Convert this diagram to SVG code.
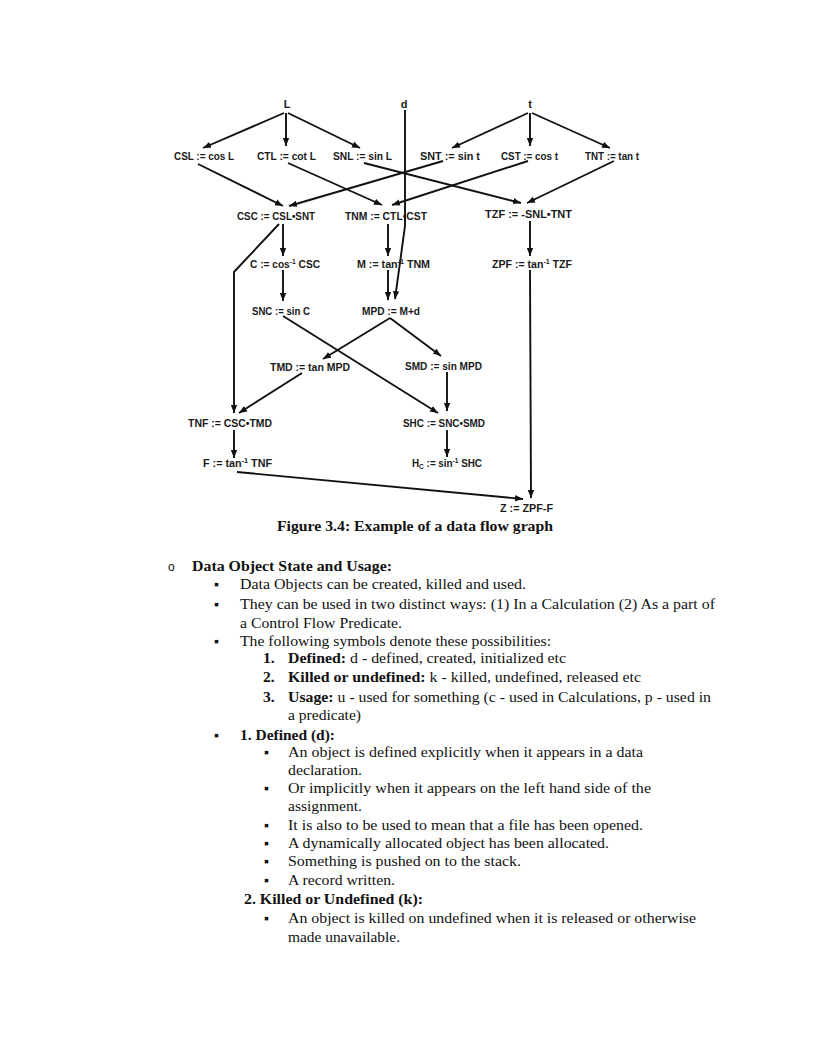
<svg xmlns="http://www.w3.org/2000/svg" width="816" height="1056" viewBox="0 0 816 1056">
<defs>
<marker id="ah" viewBox="0 0 10 8" refX="10" refY="4" markerWidth="8" markerHeight="7" markerUnits="userSpaceOnUse" orient="auto">
<path d="M0,0 L10,4 L0,8 z" fill="#111"/>
</marker>
<style>
.n{font-family:"Liberation Sans",Arial,sans-serif;font-weight:bold;font-size:10.5px;fill:#1a1a1a}
.v{font-family:"Liberation Sans",Arial,sans-serif;font-weight:bold;font-size:11px;fill:#1a1a1a;text-anchor:middle}
.sup{font-size:7px}
.e{fill:none;stroke:#111;stroke-width:1.9;marker-end:url(#ah)}
.t{font-family:"Liberation Serif","Times New Roman",serif;font-size:15.5px;fill:#111}
.k{font-family:"Liberation Serif","DejaVu Sans",serif;font-size:14px;fill:#111}
.o{font-family:"Liberation Sans","DejaVu Sans",sans-serif;font-size:12px;fill:#111}
.b{font-weight:bold}
.cap{font-family:"Liberation Serif","Times New Roman",serif;font-size:14.5px;font-weight:bold;fill:#111}
</style>
</defs>
<rect width="816" height="1056" fill="#fff"/>

<g id="connectors">
<path class="e" d="M284,113 L203,148"/>
<path class="e" d="M286,113 L286,146"/>
<path class="e" d="M288,113 L360,148"/>
<path class="e" d="M528,113 L452,148"/>
<path class="e" d="M530,113 L530,146"/>
<path class="e" d="M532,113 L610,148"/>
<path class="e" d="M405,110 L405,226 L395,299"/>
<path class="e" d="M198,164 L283,206"/>
<path class="e" d="M443,161 L289,206"/>
<path class="e" d="M288,163 L382,205"/>
<path class="e" d="M528,161 L392,205"/>
<path class="e" d="M364,163 L521,203"/>
<path class="e" d="M614,161 L527,203"/>
<path class="e" d="M283,224 L283,256"/>
<path class="e" d="M283,270 L283,301"/>
<path class="e" d="M279,224 L234,272 L234,413"/>
<path class="e" d="M388,224 L388,256"/>
<path class="e" d="M388,270 L388,300"/>
<path class="e" d="M530,221 L530,256"/>
<path class="e" d="M530,270 L531,498"/>
<path class="e" d="M390,318 L323,359"/>
<path class="e" d="M390,318 L441,356"/>
<path class="e" d="M283,316 L438,413"/>
<path class="e" d="M302,373 L239,413"/>
<path class="e" d="M447,372 L447,411"/>
<path class="e" d="M234,430 L234,458"/>
<path class="e" d="M447,430 L447,457"/>
<path class="e" d="M237,472 L523,499"/>
</g>

<g id="n-L"><text class="v" x="287" y="108">L</text></g>
<g id="n-d"><text class="v" x="404" y="108">d</text></g>
<g id="n-t"><text class="v" x="530" y="108">t</text></g>

<g id="n-CSL"><text class="n" x="174" y="160" textLength="60" lengthAdjust="spacingAndGlyphs">CSL := cos L</text></g>
<g id="n-CTL"><text class="n" x="257" y="160" textLength="59" lengthAdjust="spacingAndGlyphs">CTL := cot L</text></g>
<g id="n-SNL"><text class="n" x="333" y="160" textLength="59" lengthAdjust="spacingAndGlyphs">SNL := sin L</text></g>
<g id="n-SNT"><text class="n" x="420" y="160" textLength="60" lengthAdjust="spacingAndGlyphs">SNT := sin t</text></g>
<g id="n-CST"><text class="n" x="501" y="160" textLength="57" lengthAdjust="spacingAndGlyphs">CST := cos t</text></g>
<g id="n-TNT"><text class="n" x="585" y="160" textLength="54" lengthAdjust="spacingAndGlyphs">TNT := tan t</text></g>

<g id="n-CSC"><text class="n" x="237" y="220" textLength="78" lengthAdjust="spacingAndGlyphs">CSC := CSL•SNT</text></g>
<g id="n-TNM"><text class="n" x="345" y="220" textLength="82" lengthAdjust="spacingAndGlyphs">TNM := CTL•CST</text></g>
<g id="n-TZF"><text class="n" x="485" y="218" textLength="87" lengthAdjust="spacingAndGlyphs">TZF := -SNL•TNT</text></g>

<g id="n-C"><text class="n" x="250" y="268" textLength="70" lengthAdjust="spacingAndGlyphs">C := cos<tspan class="sup" dy="-4">-1</tspan><tspan dy="4">  CSC</tspan></text></g>
<g id="n-M"><text class="n" x="357" y="268" textLength="73" lengthAdjust="spacingAndGlyphs">M := tan<tspan class="sup" dy="-4">-1</tspan><tspan dy="4"> TNM</tspan></text></g>
<g id="n-ZPF"><text class="n" x="492" y="268" textLength="80" lengthAdjust="spacingAndGlyphs">ZPF := tan<tspan class="sup" dy="-4">-1</tspan><tspan dy="4"> TZF</tspan></text></g>

<g id="n-SNC"><text class="n" x="252" y="315" textLength="58" lengthAdjust="spacingAndGlyphs">SNC := sin C</text></g>
<g id="n-MPD"><text class="n" x="362" y="315" textLength="58" lengthAdjust="spacingAndGlyphs">MPD := M+d</text></g>

<g id="n-TMD"><text class="n" x="270" y="371" textLength="80" lengthAdjust="spacingAndGlyphs">TMD := tan MPD</text></g>
<g id="n-SMD"><text class="n" x="405" y="370" textLength="77" lengthAdjust="spacingAndGlyphs">SMD := sin MPD</text></g>

<g id="n-TNF"><text class="n" x="188" y="427" textLength="84" lengthAdjust="spacingAndGlyphs">TNF := CSC•TMD</text></g>
<g id="n-SHC"><text class="n" x="403" y="427" textLength="82" lengthAdjust="spacingAndGlyphs">SHC := SNC•SMD</text></g>

<g id="n-F"><text class="n" x="203" y="467" textLength="69" lengthAdjust="spacingAndGlyphs">F := tan<tspan class="sup" dy="-4">-1</tspan><tspan dy="4"> TNF</tspan></text></g>
<g id="n-Hc"><text class="n" x="412" y="467" textLength="70" lengthAdjust="spacingAndGlyphs">H<tspan class="sup" dy="2">C</tspan><tspan dy="-2"> := sin</tspan><tspan class="sup" dy="-4">-1</tspan><tspan dy="4"> SHC</tspan></text></g>

<g id="n-Z"><text class="n" x="500" y="512" textLength="53" lengthAdjust="spacingAndGlyphs">Z := ZPF-F</text></g>

<g id="caption"><text class="cap" x="277" y="531" textLength="276" lengthAdjust="spacingAndGlyphs">Figure 3.4: Example of a data flow graph</text></g>

<g id="body">
<text class="o" x="168" y="571">o</text>
<text class="t b" x="192" y="571" textLength="200" lengthAdjust="spacingAndGlyphs">Data Object State and Usage:</text>

<text class="k" x="214" y="589">▪</text>
<text class="t" x="240" y="589" textLength="286" lengthAdjust="spacingAndGlyphs">Data Objects can be created, killed and used.</text>
<text class="k" x="214" y="609">▪</text>
<text class="t" x="240" y="609" textLength="475" lengthAdjust="spacingAndGlyphs">They can be used in two distinct ways: (1) In a Calculation (2) As a part of</text>
<text class="t" x="240" y="628" textLength="162" lengthAdjust="spacingAndGlyphs">a Control Flow Predicate.</text>
<text class="k" x="214" y="646">▪</text>
<text class="t" x="240" y="646" textLength="311" lengthAdjust="spacingAndGlyphs">The following symbols denote these possibilities:</text>

<text class="t b" x="263" y="663">1.</text>
<text class="t" x="288" y="663" textLength="278" lengthAdjust="spacingAndGlyphs"><tspan class="b">Defined:</tspan> d - defined, created, initialized etc</text>
<text class="t b" x="263" y="682">2.</text>
<text class="t" x="288" y="682" textLength="353" lengthAdjust="spacingAndGlyphs"><tspan class="b">Killed  or undefined:</tspan> k - killed, undefined, released etc</text>
<text class="t b" x="263" y="702">3.</text>
<text class="t" x="288" y="702" textLength="423" lengthAdjust="spacingAndGlyphs"><tspan class="b">Usage:</tspan> u - used for something (c - used in Calculations, p - used in</text>
<text class="t" x="288" y="720" textLength="73" lengthAdjust="spacingAndGlyphs">a predicate)</text>

<text class="k" x="214" y="740">▪</text>
<text class="t b" x="240" y="740" textLength="95" lengthAdjust="spacingAndGlyphs">1. Defined (d):</text>

<text class="k" x="264" y="757">▪</text>
<text class="t" x="288" y="757" textLength="355" lengthAdjust="spacingAndGlyphs">An object is defined explicitly when it appears in a data</text>
<text class="t" x="288" y="775" textLength="74" lengthAdjust="spacingAndGlyphs">declaration.</text>
<text class="k" x="264" y="793">▪</text>
<text class="t" x="288" y="793" textLength="363" lengthAdjust="spacingAndGlyphs">Or implicitly  when it appears  on the left hand side of  the</text>
<text class="t" x="288" y="811" textLength="74" lengthAdjust="spacingAndGlyphs">assignment.</text>
<text class="k" x="264" y="830">▪</text>
<text class="t" x="288" y="830" textLength="355" lengthAdjust="spacingAndGlyphs">It is also to be used to mean that a file has been  opened.</text>
<text class="k" x="264" y="848">▪</text>
<text class="t" x="288" y="848" textLength="321" lengthAdjust="spacingAndGlyphs">A dynamically  allocated object has been allocated.</text>
<text class="k" x="264" y="866">▪</text>
<text class="t" x="288" y="866" textLength="233" lengthAdjust="spacingAndGlyphs">Something is pushed on to the stack.</text>
<text class="k" x="264" y="885">▪</text>
<text class="t" x="288" y="885" textLength="107" lengthAdjust="spacingAndGlyphs">A record written.</text>

<text class="t b" x="244" y="904" textLength="179" lengthAdjust="spacingAndGlyphs">2. Killed  or Undefined (k):</text>

<text class="k" x="264" y="923">▪</text>
<text class="t" x="288" y="923" textLength="408" lengthAdjust="spacingAndGlyphs">An object is killed on undefined when it is released or otherwise</text>
<text class="t" x="288" y="942" textLength="112" lengthAdjust="spacingAndGlyphs">made unavailable.</text>
</g>
</svg>
